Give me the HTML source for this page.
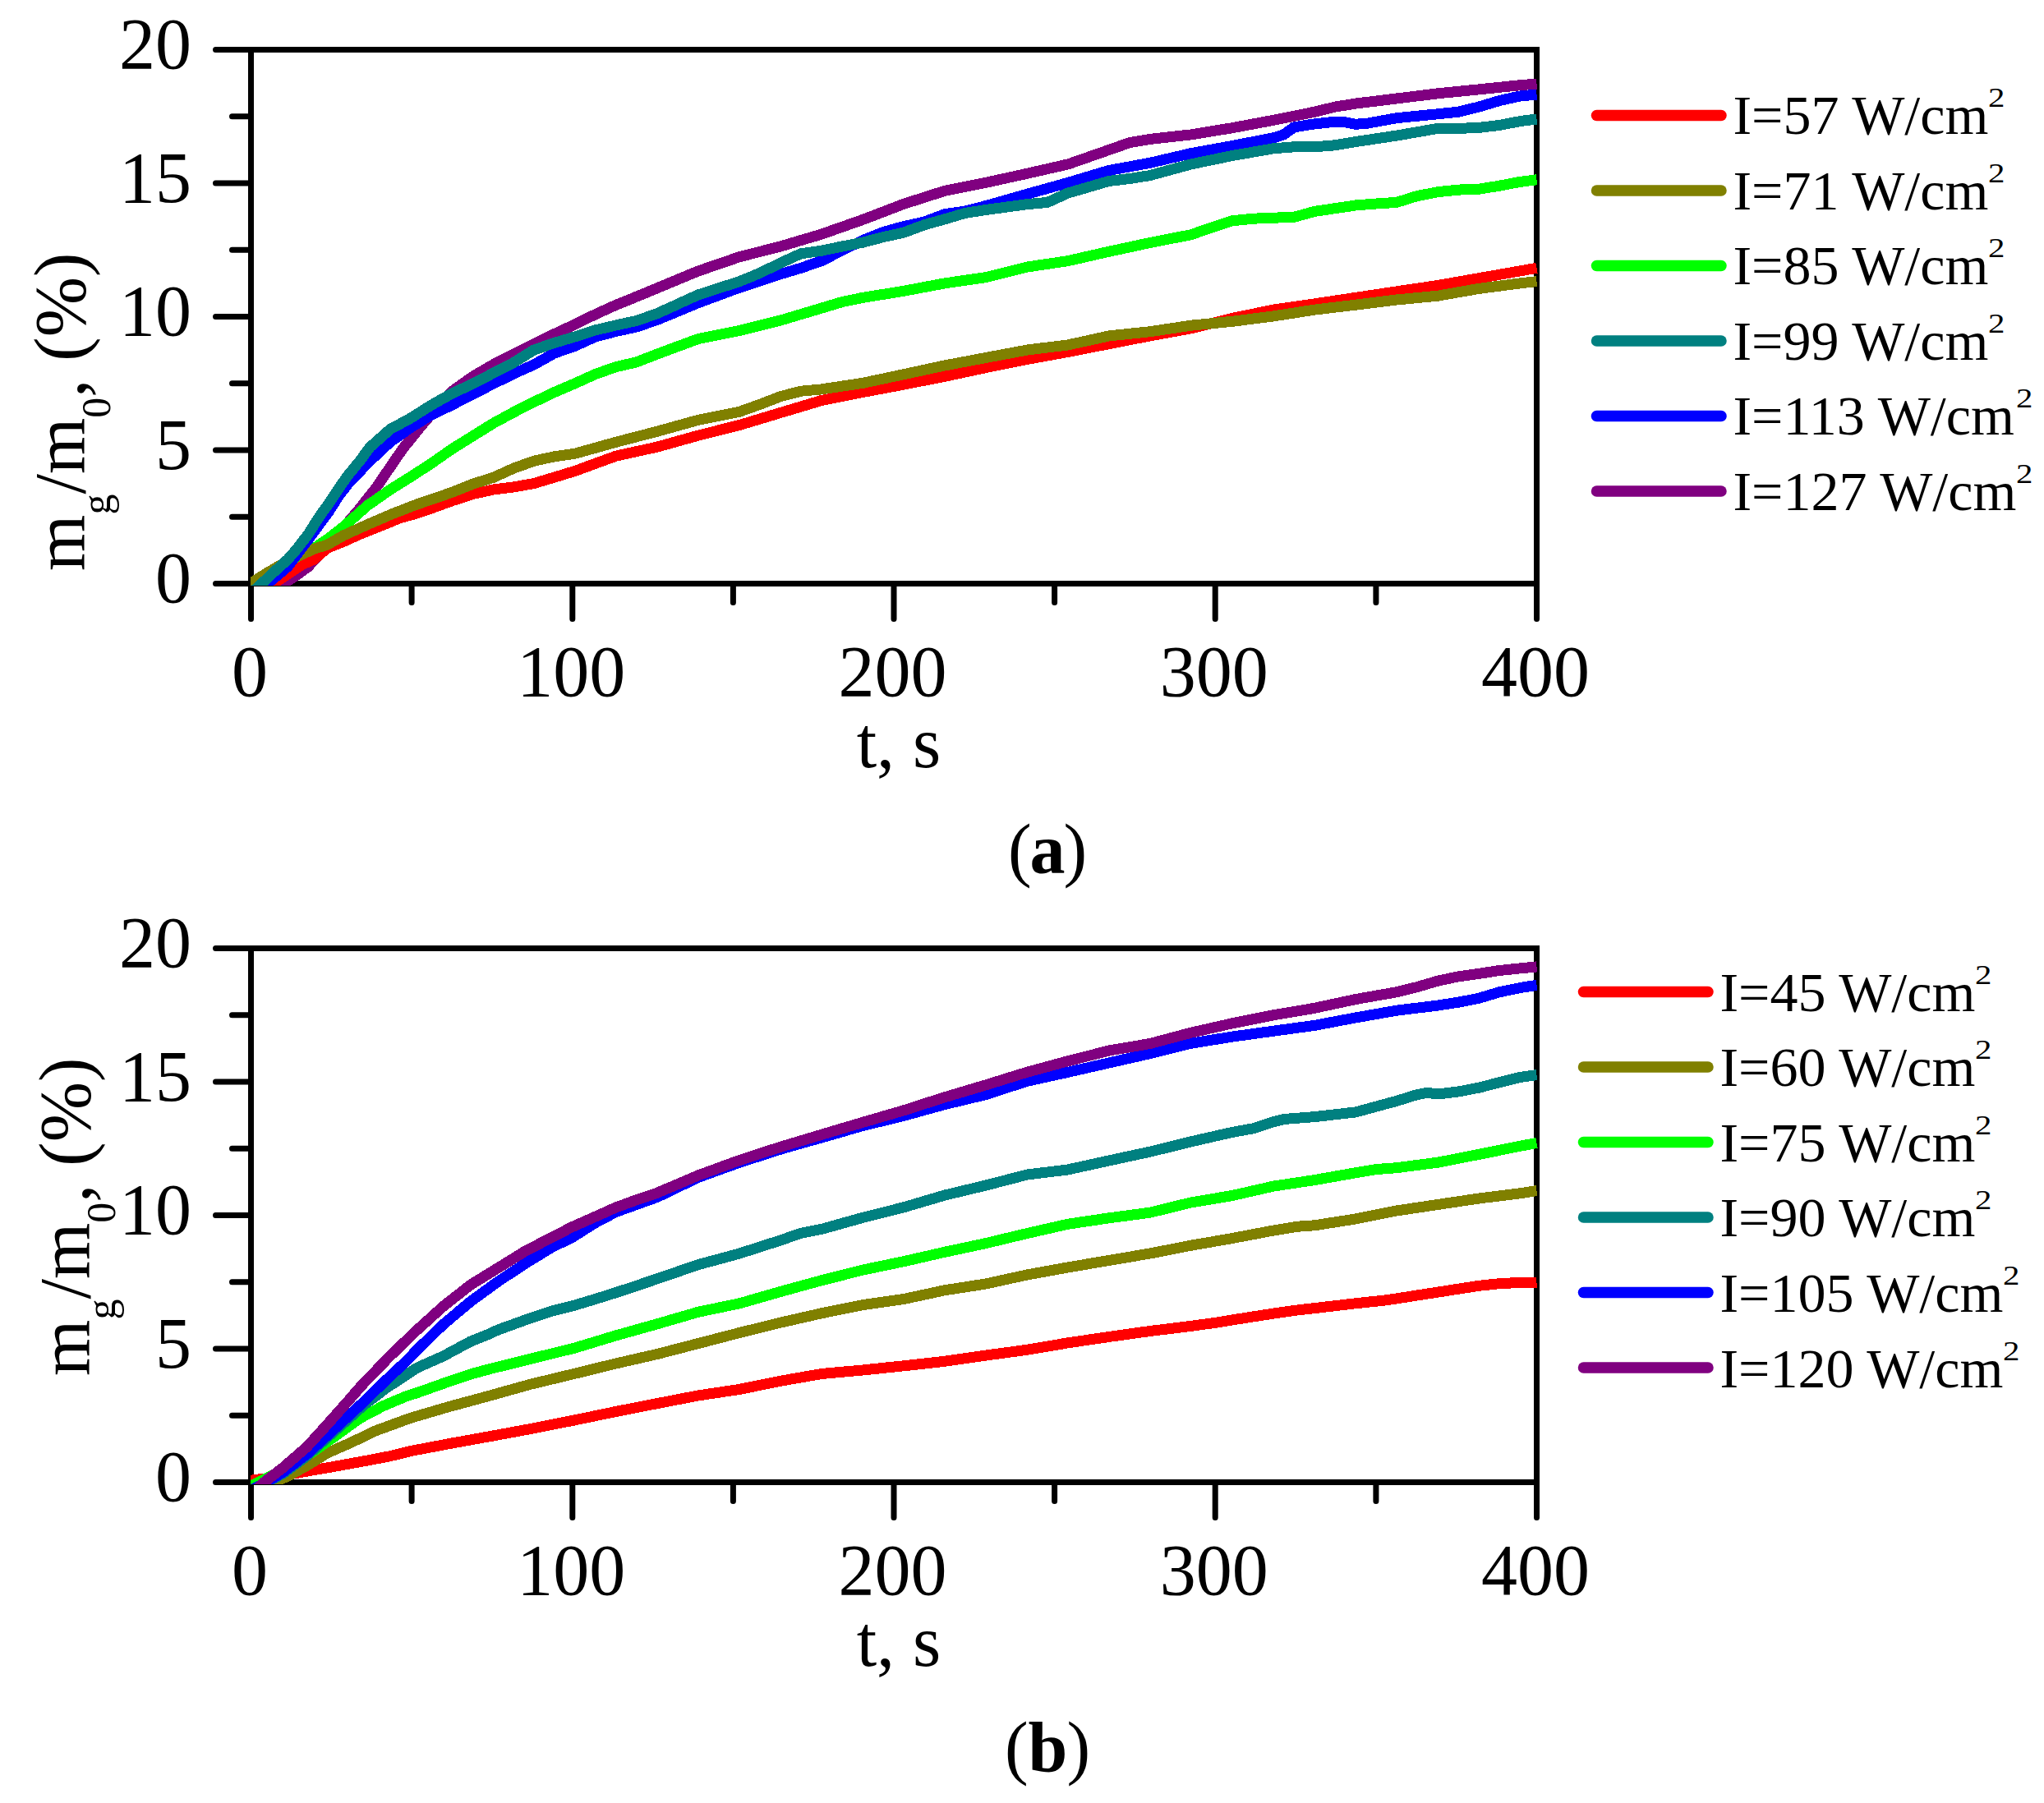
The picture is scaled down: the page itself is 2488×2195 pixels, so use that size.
<!DOCTYPE html>
<html lang="en"><head><meta charset="utf-8"><title>Figure</title>
<style>html,body{margin:0;padding:0;background:#fff}svg{display:block}text{font-family:'Liberation Serif', serif;fill:#000}</style></head><body>
<svg width="2488" height="2195" viewBox="0 0 2488 2195">
<rect width="2488" height="2195" fill="#fff"/>
<defs><clipPath id="clip1"><rect x="305.0" y="60.0" width="1568.0" height="653.0"/></clipPath></defs>
<g stroke="#000" stroke-width="7" fill="none" stroke-linecap="round" shape-rendering="crispEdges">
<path d="M305.5 57.0V714.0M1870.5 57.0V714.0M305.5 60.5H1870.5M305.5 710.5H1870.5" stroke-linecap="butt"/>
</g>
<g stroke="#000" stroke-width="7" fill="none" stroke-linecap="round">
<path d="M262.5 710.5H305.5M282.5 629.2H305.5M262.5 548.0H305.5M282.5 466.8H305.5M262.5 385.5H305.5M282.5 304.2H305.5M262.5 223.0H305.5M282.5 141.8H305.5M262.5 60.5H305.5M305.5 710.5V753.5M501.1 710.5V733.5M696.8 710.5V753.5M892.4 710.5V733.5M1088.0 710.5V753.5M1283.6 710.5V733.5M1479.2 710.5V753.5M1674.9 710.5V733.5M1870.5 710.5V753.5"/>
</g>
<g clip-path="url(#clip1)" fill="none" stroke-width="13.0" stroke-linejoin="round" stroke-linecap="butt" shape-rendering="crispEdges">
<path stroke="#800080" d="M321.1 723.5L342.7 712.1L360.3 700.8L375.1 690.0L387.7 676.0L411.1 650.4L435.4 622.1L456.9 595.1L474.9 568.8L490.2 546.4L512.5 518.8L530.5 497.6L550.0 476.5L575.1 458.6L600.1 444.0L625.2 431.0L649.8 419.0L674.8 406.6L699.9 394.9L724.9 382.6L750.0 371.2L775.0 361.1L800.0 350.7L850.1 329.9L900.2 312.7L949.9 300.0L1000.0 285.1L1050.0 267.5L1100.1 248.3L1149.8 232.4L1199.9 222.4L1250.0 211.3L1300.1 199.9L1350.1 182.4L1375.2 173.6L1399.8 169.4L1449.9 163.9L1500.0 155.7L1550.1 146.3L1600.1 136.2L1625.2 130.1L1649.8 126.1L1699.9 120.0L1750.0 113.8L1800.1 108.9L1850.2 103.7L1870.5 102.1"/>
<path stroke="#ff0000" d="M313.3 725.1L332.9 710.5L352.4 697.5L368.1 687.1L382.6 680.9L398.2 667.3L417.8 659.5L437.4 650.7L466.7 639.0L486.3 630.9L505.8 625.4L525.0 618.9L550.0 609.8L575.1 601.6L600.1 596.1L625.2 592.9L649.8 588.6L674.8 581.1L699.9 573.4L750.0 555.1L800.0 544.1L850.1 530.1L900.2 517.5L949.9 502.5L1000.0 487.5L1050.0 477.5L1100.1 468.1L1149.8 458.3L1199.9 447.6L1250.0 437.5L1300.1 428.4L1350.1 418.6L1399.8 408.9L1449.9 399.8L1500.0 387.4L1550.1 377.1L1600.1 369.9L1649.8 362.4L1699.9 354.9L1750.0 347.5L1800.1 338.7L1850.2 329.9L1870.5 326.3"/>
<path stroke="#00ff00" d="M293.8 715.4L305.5 709.9L325.1 697.5L344.6 686.5L364.2 676.7L383.8 666.6L400.2 655.2L417.8 641.6L447.1 615.6L476.5 595.1L500.0 580.5L525.0 564.2L550.0 546.7L575.1 531.1L600.1 515.5L625.2 501.9L649.8 489.5L674.8 477.5L699.9 466.8L724.9 455.4L750.0 446.6L775.0 440.8L800.0 431.0L850.1 412.5L900.2 402.4L949.9 390.1L1000.0 375.1L1025.0 367.6L1050.0 362.4L1100.1 354.3L1149.8 344.9L1199.9 337.7L1250.0 325.1L1300.1 317.6L1350.1 306.2L1399.8 295.5L1449.9 285.7L1474.9 276.9L1500.0 268.8L1525.0 266.2L1550.1 265.2L1575.1 264.3L1600.1 257.4L1649.8 250.0L1674.9 248.0L1699.9 246.4L1725.0 238.6L1750.0 233.7L1775.0 231.1L1800.1 230.2L1825.1 226.2L1850.2 221.4L1870.5 218.8"/>
<path stroke="#808000" d="M293.8 715.4L305.5 709.9L325.1 697.5L344.6 686.1L364.2 676.4L383.8 667.6L398.2 663.4L417.8 652.0L447.1 638.7L476.5 626.0L505.8 614.6L525.0 608.1L550.0 599.4L575.1 589.3L600.1 581.5L625.2 570.1L649.8 561.3L674.8 555.8L699.9 552.2L750.0 538.2L800.0 525.2L850.1 511.3L900.2 501.2L924.8 492.4L949.9 482.7L974.9 476.2L1000.0 473.9L1050.0 466.4L1100.1 455.7L1149.8 445.0L1199.9 435.5L1250.0 426.1L1300.1 419.9L1350.1 408.9L1399.8 403.7L1449.9 396.2L1500.0 391.3L1550.1 384.9L1600.1 377.1L1649.8 371.2L1699.9 365.0L1750.0 360.2L1800.1 351.4L1850.2 344.9L1870.5 342.6"/>
<path stroke="#0000ff" d="M309.4 725.1L325.8 710.5L350.1 690.0L375.1 656.9L400.2 622.8L412.7 603.2L424.8 587.6L449.9 561.6L474.9 538.2L500.0 520.4L525.0 505.1L550.0 493.1L575.1 480.1L600.1 467.4L625.2 455.0L649.8 444.0L674.8 430.0L699.9 421.2L724.9 409.9L750.0 403.4L775.0 397.9L800.0 389.4L825.1 379.0L850.1 368.6L900.2 350.1L949.9 333.8L974.9 326.3L1000.0 317.6L1025.0 304.9L1050.0 292.6L1075.1 282.5L1100.1 275.6L1125.2 270.1L1149.8 260.7L1174.9 257.1L1199.9 250.6L1250.0 236.3L1300.1 222.4L1350.1 207.4L1399.8 198.3L1449.9 186.6L1500.0 177.5L1550.1 167.8L1562.6 163.9L1575.1 154.8L1600.1 150.9L1625.2 148.2L1637.7 148.9L1649.8 151.2L1662.4 150.5L1699.9 143.7L1750.0 138.8L1775.0 136.2L1800.1 130.1L1825.1 122.6L1850.2 117.0L1870.5 115.1"/>
<path stroke="#008080" d="M301.6 725.1L316.1 712.8L330.5 699.1L350.1 681.2L361.1 668.6L375.1 650.4L389.6 627.6L400.2 613.0L416.6 588.3L424.8 577.2L438.9 560.0L449.9 544.8L474.9 522.6L500.0 509.0L524.6 493.4L550.0 479.1L575.1 467.4L600.1 454.4L625.2 441.4L649.8 426.1L674.8 417.4L699.9 409.9L724.9 401.8L750.0 395.9L775.0 390.4L800.0 381.6L825.1 370.2L850.1 358.8L900.2 342.6L924.8 332.5L949.9 320.2L974.9 308.8L1000.0 305.2L1025.0 300.0L1050.0 295.2L1075.1 288.6L1100.1 283.1L1125.2 273.7L1149.8 266.9L1174.9 259.4L1199.9 255.5L1250.0 248.7L1275.0 246.4L1300.1 235.0L1350.1 220.4L1375.2 217.5L1399.8 213.6L1449.9 199.9L1500.0 189.5L1550.1 180.8L1575.1 178.8L1600.1 178.8L1625.2 176.8L1649.8 172.6L1699.9 165.1L1750.0 156.4L1775.0 156.4L1800.1 155.4L1825.1 152.5L1850.2 147.6L1870.5 145.0"/>
</g>
<g font-size="88" text-anchor="end">
<text x="233" y="733.0">0</text>
<text x="233" y="570.5">5</text>
<text x="233" y="408.0">10</text>
<text x="233" y="245.5">15</text>
<text x="233" y="83.0">20</text>
</g>
<g font-size="88" text-anchor="middle">
<text x="304.0" y="846.5">0</text>
<text x="695.2" y="846.5">100</text>
<text x="1086.5" y="846.5">200</text>
<text x="1477.8" y="846.5">300</text>
<text x="1869.0" y="846.5">400</text>
<text x="1094" y="934.0">t, s</text>
</g>
<text transform="translate(102.5 695.0) rotate(-90)" font-size="88" id="yt1">m<tspan font-size="50" dy="31.5">g</tspan><tspan dy="-31.5">/m</tspan><tspan font-size="50" dy="31.5">0</tspan><tspan dy="-31.5">, (%)</tspan></text>
<g stroke-width="13.5" stroke-linecap="round" fill="none">
<path stroke="#ff0000" d="M1943.5 140.5H2095.0"/>
<path stroke="#808000" d="M1943.5 232.0H2095.0"/>
<path stroke="#00ff00" d="M1943.5 323.5H2095.0"/>
<path stroke="#008080" d="M1943.5 415.0H2095.0"/>
<path stroke="#0000ff" d="M1943.5 506.5H2095.0"/>
<path stroke="#800080" d="M1943.5 598.0H2095.0"/>
</g>
<g font-size="68">
<text x="2109.4" y="163.0">I=57 W/cm</text>
<text transform="translate(2420.1 130.0) scale(1.2 1)" font-size="34">2</text>
<text x="2109.4" y="254.6">I=71 W/cm</text>
<text transform="translate(2420.1 221.6) scale(1.2 1)" font-size="34">2</text>
<text x="2109.4" y="346.2">I=85 W/cm</text>
<text transform="translate(2420.1 313.2) scale(1.2 1)" font-size="34">2</text>
<text x="2109.4" y="437.8">I=99 W/cm</text>
<text transform="translate(2420.1 404.8) scale(1.2 1)" font-size="34">2</text>
<text x="2109.4" y="529.4">I=113 W/cm</text>
<text transform="translate(2454.1 496.4) scale(1.2 1)" font-size="34">2</text>
<text x="2109.4" y="621.0">I=127 W/cm</text>
<text transform="translate(2454.1 588.0) scale(1.2 1)" font-size="34">2</text>
</g>
<text y="1063.0" font-size="86" id="cap1"><tspan x="1227">(</tspan><tspan x="1253.5" font-weight="bold">a</tspan><tspan x="1294.4">)</tspan></text>
<defs><clipPath id="clip2"><rect x="305.0" y="1154.0" width="1568.0" height="653.0"/></clipPath></defs>
<g stroke="#000" stroke-width="7" fill="none" stroke-linecap="round" shape-rendering="crispEdges">
<path d="M305.5 1151.0V1808.0M1870.5 1151.0V1808.0M305.5 1154.5H1870.5M305.5 1804.5H1870.5" stroke-linecap="butt"/>
</g>
<g stroke="#000" stroke-width="7" fill="none" stroke-linecap="round">
<path d="M262.5 1804.5H305.5M282.5 1723.2H305.5M262.5 1642.0H305.5M282.5 1560.8H305.5M262.5 1479.5H305.5M282.5 1398.2H305.5M262.5 1317.0H305.5M282.5 1235.8H305.5M262.5 1154.5H305.5M305.5 1804.5V1847.5M501.1 1804.5V1827.5M696.8 1804.5V1847.5M892.4 1804.5V1827.5M1088.0 1804.5V1847.5M1283.6 1804.5V1827.5M1479.2 1804.5V1847.5M1674.9 1804.5V1827.5M1870.5 1804.5V1847.5"/>
</g>
<g clip-path="url(#clip2)" fill="none" stroke-width="13.0" stroke-linejoin="round" stroke-linecap="butt" shape-rendering="crispEdges">
<path stroke="#ff0000" d="M293.8 1803.2L305.5 1802.2L325.1 1799.6L344.6 1796.4L375.1 1790.8L400.2 1786.6L424.8 1782.1L449.9 1777.5L474.9 1772.7L500.0 1766.5L550.0 1757.0L600.1 1748.0L649.8 1738.8L699.9 1728.8L750.0 1718.4L800.0 1708.6L850.1 1698.9L900.2 1691.4L949.9 1681.3L1000.0 1672.5L1050.0 1668.0L1100.1 1662.8L1149.8 1657.3L1199.9 1650.1L1250.0 1643.3L1300.1 1634.8L1350.1 1627.4L1399.8 1620.5L1449.9 1614.4L1480.0 1610.2L1500.0 1606.9L1550.1 1599.1L1579.8 1594.9L1600.1 1592.6L1649.8 1586.8L1683.9 1583.2L1699.9 1580.9L1750.0 1573.1L1800.1 1565.3L1825.1 1562.7L1850.2 1561.4L1870.5 1561.1"/>
<path stroke="#808000" d="M313.3 1814.2L332.9 1804.5L350.1 1797.3L375.1 1783.4L398.6 1768.8L427.6 1756.1L456.5 1742.1L500.0 1726.2L545.7 1712.8L595.8 1699.2L645.9 1685.2L699.9 1672.2L750.0 1659.9L800.0 1648.5L850.1 1635.5L900.2 1622.5L949.9 1610.2L1000.0 1598.8L1050.0 1588.7L1100.1 1581.5L1149.8 1570.8L1199.9 1563.0L1250.0 1552.0L1300.1 1542.9L1350.1 1534.4L1399.8 1526.0L1449.9 1516.2L1480.0 1511.0L1500.0 1507.5L1550.1 1498.0L1579.8 1493.2L1600.1 1491.8L1649.8 1484.0L1699.9 1474.0L1750.0 1466.5L1800.1 1459.0L1850.2 1452.8L1870.5 1449.6"/>
<path stroke="#00ff00" d="M293.8 1816.8L305.5 1809.0L325.1 1799.3L350.1 1786.6L383.8 1765.5L407.2 1748.9L437.7 1726.8L466.7 1711.5L496.0 1699.2L506.6 1696.0L539.9 1684.2L573.1 1672.9L595.8 1666.7L645.9 1654.3L674.8 1647.2L699.9 1641.0L750.0 1625.8L800.0 1611.8L850.1 1597.2L900.2 1586.8L949.9 1572.5L1000.0 1558.8L1050.0 1546.1L1100.1 1535.7L1149.8 1524.3L1199.9 1513.6L1250.0 1501.6L1300.1 1490.2L1350.1 1482.8L1399.8 1476.2L1449.9 1463.9L1500.0 1455.5L1550.1 1444.1L1600.1 1436.6L1649.8 1427.8L1674.9 1423.6L1699.9 1421.7L1750.0 1415.2L1800.1 1405.4L1850.2 1395.3L1870.5 1391.4"/>
<path stroke="#008080" d="M305.5 1814.2L321.1 1807.1L344.6 1793.8L373.4 1772.7L399.4 1749.2L422.5 1728.8L442.4 1710.9L469.8 1690.1L496.0 1672.9L506.6 1665.7L539.9 1650.8L573.1 1632.9L595.8 1623.8L606.4 1618.9L639.6 1606.9L672.9 1595.8L699.9 1589.0L739.4 1577.0L772.7 1566.0L800.0 1556.8L850.1 1539.6L900.2 1526.0L949.9 1510.0L974.9 1501.3L1000.0 1496.4L1050.0 1482.4L1100.1 1469.8L1149.8 1455.1L1199.9 1443.1L1250.0 1430.1L1300.1 1423.9L1350.1 1412.9L1399.8 1402.2L1449.9 1389.8L1500.0 1378.4L1525.0 1373.9L1550.1 1365.8L1562.6 1362.5L1600.1 1359.6L1649.8 1354.0L1699.9 1340.4L1725.0 1332.6L1737.5 1330.3L1750.0 1332.0L1775.0 1329.0L1800.1 1324.2L1825.1 1317.7L1850.2 1311.5L1870.5 1308.5"/>
<path stroke="#0000ff" d="M305.5 1814.2L321.1 1806.1L344.6 1792.2L373.4 1770.4L399.4 1746.7L422.5 1725.5L442.4 1707.0L469.8 1680.3L496.0 1655.7L506.6 1644.3L539.9 1612.1L573.1 1584.2L606.4 1560.1L639.6 1538.0L672.9 1517.8L696.8 1506.5L706.1 1500.3L724.9 1488.6L750.0 1475.3L800.0 1457.4L850.1 1433.3L900.2 1415.2L949.9 1399.2L1000.0 1384.9L1050.0 1370.6L1100.1 1358.3L1149.8 1344.6L1199.9 1332.6L1250.0 1316.3L1300.1 1305.3L1350.1 1293.9L1399.8 1282.6L1449.9 1270.2L1500.0 1262.1L1550.1 1255.2L1600.1 1248.4L1649.8 1239.0L1699.9 1230.2L1750.0 1224.1L1775.0 1220.2L1800.1 1215.3L1825.1 1207.8L1850.2 1202.6L1870.5 1199.3"/>
<path stroke="#800080" d="M305.5 1819.1L321.5 1804.5L344.6 1786.6L373.4 1761.6L399.4 1733.0L422.5 1707.0L440.1 1686.8L473.3 1652.4L496.0 1630.3L506.6 1620.2L539.9 1590.0L573.1 1564.0L606.4 1543.5L639.6 1523.0L672.9 1505.8L696.8 1493.5L724.9 1481.1L750.0 1469.8L775.0 1460.7L800.0 1452.2L850.1 1430.8L900.2 1412.5L949.9 1396.3L1000.0 1381.3L1050.0 1366.4L1100.1 1351.8L1149.8 1335.8L1199.9 1320.9L1250.0 1305.3L1300.1 1291.7L1350.1 1279.0L1399.8 1270.5L1449.9 1257.2L1500.0 1245.8L1550.1 1235.8L1600.1 1227.3L1649.8 1216.6L1699.9 1207.8L1725.0 1201.6L1750.0 1194.2L1775.0 1188.9L1800.1 1185.4L1825.1 1181.5L1850.2 1178.9L1870.5 1176.9"/>
</g>
<g font-size="88" text-anchor="end">
<text x="233" y="1827.0">0</text>
<text x="233" y="1664.5">5</text>
<text x="233" y="1502.0">10</text>
<text x="233" y="1339.5">15</text>
<text x="233" y="1177.0">20</text>
</g>
<g font-size="88" text-anchor="middle">
<text x="304.0" y="1940.5">0</text>
<text x="695.2" y="1940.5">100</text>
<text x="1086.5" y="1940.5">200</text>
<text x="1477.8" y="1940.5">300</text>
<text x="1869.0" y="1940.5">400</text>
<text x="1094" y="2028.0">t, s</text>
</g>
<text transform="translate(108.5 1675.0) rotate(-90)" font-size="88" id="yt2">m<tspan font-size="50" dy="31.5">g</tspan><tspan dy="-31.5">/m</tspan><tspan font-size="50" dy="31.5">0</tspan><tspan dy="-31.5">, (%)</tspan></text>
<g stroke-width="13.5" stroke-linecap="round" fill="none">
<path stroke="#ff0000" d="M1927.5 1207.5H2079.0"/>
<path stroke="#808000" d="M1927.5 1299.0H2079.0"/>
<path stroke="#00ff00" d="M1927.5 1390.5H2079.0"/>
<path stroke="#008080" d="M1927.5 1482.0H2079.0"/>
<path stroke="#0000ff" d="M1927.5 1573.5H2079.0"/>
<path stroke="#800080" d="M1927.5 1665.0H2079.0"/>
</g>
<g font-size="68">
<text x="2093.4" y="1230.5">I=45 W/cm</text>
<text transform="translate(2404.1 1197.5) scale(1.2 1)" font-size="34">2</text>
<text x="2093.4" y="1322.1">I=60 W/cm</text>
<text transform="translate(2404.1 1289.1) scale(1.2 1)" font-size="34">2</text>
<text x="2093.4" y="1413.7">I=75 W/cm</text>
<text transform="translate(2404.1 1380.7) scale(1.2 1)" font-size="34">2</text>
<text x="2093.4" y="1505.3">I=90 W/cm</text>
<text transform="translate(2404.1 1472.3) scale(1.2 1)" font-size="34">2</text>
<text x="2093.4" y="1596.9">I=105 W/cm</text>
<text transform="translate(2438.1 1563.9) scale(1.2 1)" font-size="34">2</text>
<text x="2093.4" y="1688.5">I=120 W/cm</text>
<text transform="translate(2438.1 1655.5) scale(1.2 1)" font-size="34">2</text>
</g>
<text y="2156.0" font-size="86" id="cap2"><tspan x="1223">(</tspan><tspan x="1251.5" font-weight="bold">b</tspan><tspan x="1298.5">)</tspan></text>
</svg></body></html>
